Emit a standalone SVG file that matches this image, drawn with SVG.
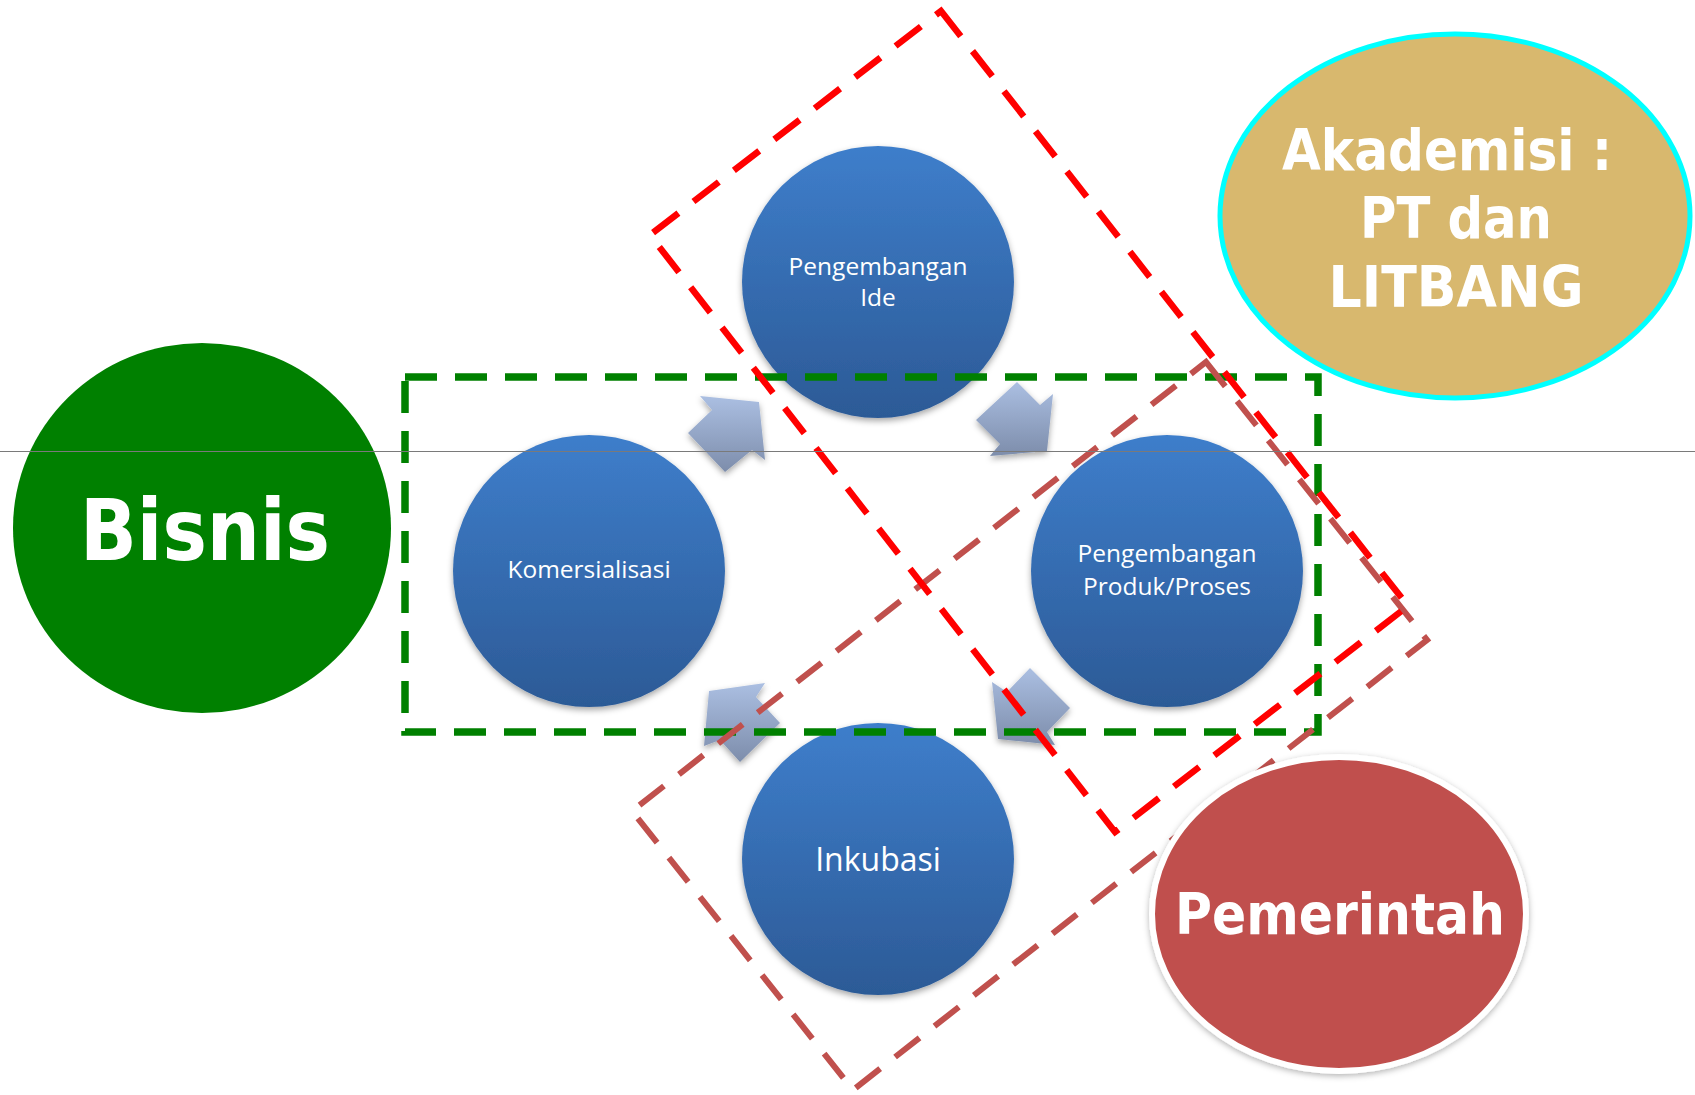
<svg xmlns="http://www.w3.org/2000/svg" width="1695" height="1095" viewBox="0 0 1695 1095">
<defs>
<linearGradient id="blueG" x1="0" y1="0" x2="0" y2="1">
<stop offset="0" stop-color="#3e7ecb"/>
<stop offset="1" stop-color="#2c5a96"/>
</linearGradient>
<linearGradient id="arrG" x1="0" y1="0" x2="0" y2="1">
<stop offset="0" stop-color="#abbfe2"/>
<stop offset="1" stop-color="#7d8dab"/>
</linearGradient>
<filter id="sh" x="-20%" y="-20%" width="140%" height="140%">
<feDropShadow dx="0" dy="3" stdDeviation="3" flood-color="#000" flood-opacity="0.35"/>
</filter>
<filter id="glow" x="-20%" y="-20%" width="140%" height="140%">
<feDropShadow dx="0" dy="2" stdDeviation="3" flood-color="#000" flood-opacity="0.3"/>
</filter>
<style>
.blue{fill:url(#blueG);filter:url(#sh)}
.lbl{font-family:"Open Sans","Noto Sans",sans-serif;fill:#fff;text-anchor:middle;font-size:24.5px}
.big{font-family:"DejaVu Sans Condensed","DejaVu Sans","Liberation Sans",sans-serif;font-weight:bold;fill:#fff;text-anchor:middle}
.arr{fill:url(#arrG);filter:url(#sh)}
.grn{fill:none;stroke:#008000;stroke-width:7.5;stroke-dasharray:32 18}
.red{fill:none;stroke:#ff0000;stroke-width:6.5;stroke-dasharray:32 19}
.brn{fill:none;stroke:#c0504d;stroke-width:6;stroke-dasharray:31 19}
</style>
</defs>
<rect width="1695" height="1095" fill="#fff"/>

<g id="bisnis">
<ellipse cx="202" cy="528" rx="189" ry="185" fill="#008000"/>
<text class="big" x="205" y="560" font-size="85" textLength="250" lengthAdjust="spacingAndGlyphs">Bisnis</text>
</g>

<g id="pengembangan-ide">
<circle class="blue" cx="878" cy="282" r="136"/>
<text class="lbl" x="878" y="275">Pengembangan</text>
<text class="lbl" x="878" y="306">Ide</text>
</g>

<g id="komersialisasi">
<circle class="blue" cx="589" cy="571" r="136"/>
<text class="lbl" x="589" y="578">Komersialisasi</text>
</g>

<g id="pengembangan-produk">
<circle class="blue" cx="1167" cy="571" r="136"/>
<text class="lbl" x="1167" y="562">Pengembangan</text>
<text class="lbl" x="1167" y="595">Produk/Proses</text>
</g>

<g id="inkubasi">
<circle class="blue" cx="878" cy="859" r="136"/>
<text class="lbl" x="878" y="871" style="font-size:32px">Inkubasi</text>
</g>

<g id="connectors">
<polygon class="arr" points="700,396 759,402 765,460 752,450 725,472 688,433 712,410"/>
<polygon class="arr" points="1017,382 1040,405 1053,394 1047,451 990,456 1000,444 976,420"/>
<polygon class="arr" points="1030,668 1070,708 1047,732 1055,745 998,739 992,682 1007,692"/>
<polygon class="arr" points="709,691 765,683 756,697 780,723 740,762 720,740 704,746"/>
</g>

<g id="groups">
<rect class="grn" x="405" y="377" width="913" height="355"/>
<polygon class="brn" points="1206,362 1427,640 853,1090 632,811"/>
<polygon class="red" points="941,11 1408,606 1115,832 650,235"/>
</g>

<g id="akademisi">
<ellipse cx="1455" cy="216" rx="235" ry="182" fill="#d8b86e" stroke="#00ffff" stroke-width="5"/>
<text class="big" x="1447" y="170" font-size="57" textLength="330" lengthAdjust="spacingAndGlyphs">Akademisi :</text>
<text class="big" x="1456" y="238" font-size="57" textLength="192" lengthAdjust="spacingAndGlyphs">PT dan</text>
<text class="big" x="1456" y="307" font-size="57" textLength="255" lengthAdjust="spacingAndGlyphs">LITBANG</text>
</g>

<g id="pemerintah">
<ellipse cx="1339" cy="914" rx="187" ry="157" fill="#c0504d" stroke="#fff" stroke-width="6" filter="url(#glow)"/>
<text class="big" x="1340" y="934" font-size="57" textLength="330" lengthAdjust="spacingAndGlyphs">Pemerintah</text>
</g>

<line x1="0" y1="451.5" x2="1695" y2="451.5" stroke="#7a7a7a" stroke-width="1"/>
</svg>
